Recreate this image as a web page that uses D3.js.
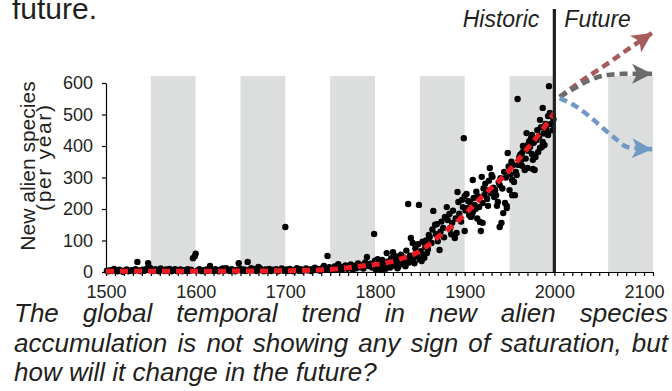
<!DOCTYPE html>
<html>
<head>
<meta charset="utf-8">
<script src="https://cdn.jsdelivr.net/npm/d3@7"></script>
<style>
  body { margin: 0; background: #fff; }
  svg { display: block; font-family: "Liberation Sans", Arial, Helvetica, sans-serif; }
</style>
</head>
<body>
<svg id="chart"></svg>
<script>
// observed new alien species per year: [year, count]
const observed = [
  [1501,4],[1503,2],[1505,6],[1507,3],[1509,10],[1511,5],[1513,2],[1515,7],[1517,3],[1519,1],
  [1521,5],[1523,8],[1525,2],[1527,4],[1529,6],[1531,3],[1533,9],[1535,32],[1537,5],[1539,2],
  [1541,7],[1543,4],[1545,10],[1547,28],[1549,14],[1551,6],[1553,3],[1555,9],[1557,5],[1559,2],
  [1561,11],[1563,6],[1565,3],[1567,8],[1569,4],[1571,10],[1573,2],[1575,6],[1577,9],[1579,3],
  [1581,5],[1583,8],[1585,2],[1587,6],[1589,4],[1591,9],[1593,3],[1595,7],[1597,44],[1599,50],
  [1600,58],[1602,5],[1604,9],[1606,3],[1608,6],[1610,2],[1612,8],[1614,4],[1616,19],[1618,7],
  [1620,3],[1622,9],[1624,5],[1626,2],[1628,8],[1630,11],[1632,4],[1634,12],[1636,6],[1638,3],
  [1640,9],[1642,5],[1644,2],[1646,7],[1648,28],[1650,10],[1652,4],[1654,8],[1656,3],[1658,32],
  [1660,7],[1662,12],[1664,5],[1666,9],[1668,3],[1670,16],[1672,11],[1674,6],[1676,2],[1678,8],
  [1680,4],[1682,10],[1684,3],[1686,7],[1688,5],[1690,9],[1692,2],[1694,6],[1696,11],[1698,4],
  [1700,143],[1701,8],[1703,3],[1705,10],[1707,5],[1709,2],[1711,7],[1713,12],[1715,4],[1717,9],
  [1719,3],[1721,6],[1723,11],[1725,5],[1727,8],[1729,3],[1731,10],[1733,14],[1735,6],[1737,9],
  [1739,4],[1741,12],[1743,19],[1745,8],[1747,51],[1749,15],[1751,6],[1753,11],[1755,18],[1757,9],
  [1759,25],[1761,13],[1763,7],[1765,17],[1767,21],[1769,10],[1771,14],[1773,24],[1775,8],[1777,19],
  [1779,12],[1781,27],[1783,16],[1785,22],[1787,11],[1789,30],[1791,48],[1793,19],[1795,26],[1797,14],
  [1799,121],[1800,36],[1801,8],[1802,22],[1803,41],[1804,12],[1805,15],[1806,29],[1807,6],[1808,38],
  [1809,18],[1810,24],[1811,12],[1812,10],[1813,60],[1814,33],[1815,25],[1816,19],[1817,14],[1818,44],
  [1819,30],[1820,63],[1821,28],[1822,20],[1823,50],[1824,36],[1825,12],[1826,17],[1827,42],[1828,33],
  [1829,55],[1830,30],[1831,26],[1832,46],[1833,22],[1834,18],[1835,68],[1836,39],[1837,216],[1838,30],
  [1839,52],[1840,108],[1841,40],[1842,92],[1843,45],[1844,28],[1845,75],[1846,58],[1847,50],[1848,88],
  [1849,213],[1850,40],[1851,66],[1852,35],[1853,96],[1854,52],[1855,45],[1856,80],[1857,100],[1858,60],
  [1859,72],[1860,118],[1861,111],[1863,92],[1864,135],[1865,194],[1867,150],[1868,120],[1869,152],[1870,98],
  [1872,70],[1873,128],[1874,160],[1876,140],[1877,110],[1878,175],[1880,206],[1881,165],[1883,184],[1884,140],
  [1885,120],[1886,156],[1887,195],[1889,108],[1890,170],[1891,124],[1892,254],[1893,222],[1894,185],[1896,160],
  [1897,229],[1898,206],[1899,425],[1900,241],[1900,130],[1901,195],[1902,248],[1903,203],[1904,225],[1905,180],
  [1906,222],[1907,175],[1908,181],[1909,292],[1909,190],[1910,235],[1911,213],[1912,200],[1913,255],[1914,170],
  [1915,240],[1916,206],[1917,159],[1918,130],[1919,302],[1920,219],[1920,156],[1921,265],[1922,245],[1923,280],
  [1924,260],[1925,232],[1926,210],[1927,290],[1928,330],[1929,250],[1930,308],[1931,302],[1932,268],[1933,238],
  [1934,260],[1935,244],[1936,210],[1937,222],[1938,285],[1939,276],[1939,143],[1940,298],[1941,156],[1942,265],
  [1943,187],[1944,318],[1945,219],[1946,300],[1947,203],[1947,210],[1948,378],[1949,335],[1950,260],[1951,310],
  [1952,350],[1953,244],[1953,292],[1954,340],[1955,286],[1956,244],[1957,318],[1958,308],[1959,549],[1960,340],
  [1961,365],[1962,372],[1963,355],[1964,378],[1964,337],[1965,400],[1966,390],[1967,324],[1968,360],[1969,441],
  [1970,403],[1970,330],[1971,385],[1972,415],[1973,398],[1974,425],[1975,375],[1975,435],[1976,356],[1976,327],
  [1977,410],[1978,324],[1979,365],[1980,419],[1981,450],[1982,381],[1983,430],[1984,394],[1984,483],[1985,460],
  [1986,397],[1987,413],[1987,521],[1988,440],[1989,441],[1989,403],[1990,470],[1991,455],[1992,441],[1993,435],
  [1993,495],[1994,590],[1995,505],[1996,470],[1997,498],[1998,450],[1999,485]
];

// fitted trend (red dashed)
const trend = [
  [1500,2],[1550,2],[1600,2],[1650,3],[1700,4],[1750,8],[1787,20],[1817,32],[1833,46],[1848,63],
  [1859,84],[1872,115],[1886,146],[1897,175],[1908,206],[1919,238],[1931,270],[1943,302],[1953,333],
  [1964,371],[1974,406],[1984,441],[1993,476],[2000,505]
];

// future scenarios (arrows)
const highScenario = [[2006,556],[2032,610],[2054,651],[2076,695],[2109,759]];
const flatScenario = [[2006,556],[2023,584],[2040,610],[2058,625],[2076,629],[2109,629]];
const lowScenario  = [[2006,552],[2025,524],[2040,492],[2054,457],[2070,419],[2081,397],[2109,390]];

const bandStarts = [1550, 1650, 1750, 1850, 1950, 2060];
const xLabels = [1500, 1600, 1700, 1800, 1900, 2000, 2100];
const yLabels = [0, 100, 200, 300, 400, 500, 600];

const captionLines = [
  "The global temporal trend in new alien species",
  "accumulation is not showing any sign of saturation, but",
  "how will it change in the future?"
];

const width = 672, height = 391;
const ink = '#231f20';

const svg = d3.select('#chart').attr('width', width).attr('height', height);

const x = d3.scaleLinear().domain([1500, 2110]).range([106, 653]);
const y = d3.scaleLinear().domain([0, 600]).range([272, 83]);

// gray century bands
svg.append('g')
  .selectAll('rect')
  .data(bandStarts)
  .enter()
  .append('rect')
  .attr('x', d => x(d))
  .attr('width', d => x(d + 50) - x(d))
  .attr('y', y(622))
  .attr('height', y(0) - y(622))
  .style('fill', '#dcdddd');

// axes
const yAxis = svg.append('g')
  .attr('transform', `translate(${x(1500)}, 0)`)
  .call(d3.axisLeft(y).tickValues(yLabels).tickSize(4).tickSizeOuter(0).tickPadding(9));

const xAxis = svg.append('g')
  .attr('transform', `translate(0, ${y(0)})`)
  .call(d3.axisBottom(x)
    .tickValues(d3.range(1500, 2111, 10))
    .tickSize(4).tickSizeOuter(0).tickPadding(9)
    .tickFormat(d => xLabels.includes(d) ? d : ''));

[xAxis, yAxis].forEach(g => {
  g.attr('font-family', null).attr('font-size', null);
  g.selectAll('text').style('font-size', '18px').style('fill', ink);
  g.selectAll('path, line').style('stroke', '#000').style('stroke-width', 1.2);
});

// points
svg.append('g')
  .selectAll('circle')
  .data(observed)
  .enter()
  .append('circle')
  .attr('cx', d => x(d[0]))
  .attr('cy', d => y(d[1]))
  .attr('r', 3.2)
  .style('fill', '#000');

// trend
const line = d3.line()
  .x(d => x(d[0]))
  .y(d => y(d[1]))
  .curve(d3.curveMonotoneX);

svg.append('path')
  .datum(trend)
  .attr('d', line)
  .style('fill', 'none')
  .style('stroke', '#ed1c24')
  .style('stroke-width', 5)
  .style('stroke-dasharray', '8,6');

// historic / future divider
svg.append('line')
  .attr('x1', x(2000)).attr('x2', x(2000))
  .attr('y1', y(835)).attr('y2', y(0))
  .style('stroke', ink)
  .style('stroke-width', 3.2);

svg.append('text')
  .attr('x', x(2000) - 15).attr('y', 27)
  .attr('text-anchor', 'end')
  .style('font-style', 'italic').style('font-size', '23px').style('fill', ink)
  .text('Historic');

svg.append('text')
  .attr('x', x(2000) + 10).attr('y', 27)
  .style('font-style', 'italic').style('font-size', '23px').style('fill', ink)
  .text('Future');

// scenario arrows
const defs = svg.append('defs');
const scenarios = [
  { id: 'high', color: '#a65b5d', pts: highScenario },
  { id: 'flat', color: '#6a6b6d', pts: flatScenario },
  { id: 'low',  color: '#7199c8', pts: lowScenario }
];

scenarios.forEach(s => {
  defs.append('marker')
    .attr('id', 'head-' + s.id)
    .attr('viewBox', '0 0 10 10')
    .attr('refX', 10).attr('refY', 5)
    .attr('markerUnits', 'userSpaceOnUse')
    .attr('markerWidth', 24).attr('markerHeight', 20)
    .attr('orient', 'auto')
    .append('path')
    .attr('d', 'M0,0 L10,5 L0,10 L2.5,5 Z')
    .style('fill', s.color);

  svg.append('path')
    .datum(s.pts)
    .attr('d', line)
    .attr('marker-end', `url(#head-${s.id})`)
    .style('fill', 'none')
    .style('stroke', s.color)
    .style('stroke-width', 4.5)
    .style('stroke-dasharray', '8,5');
});

// y axis title
svg.append('text')
  .attr('transform', 'translate(35, 166) rotate(-90)')
  .attr('text-anchor', 'middle')
  .style('font-size', '21px').style('fill', ink)
  .text('New alien species');

svg.append('text')
  .attr('transform', 'translate(51, 158) rotate(-90)')
  .attr('text-anchor', 'middle')
  .attr('textLength', 106)
  .style('font-size', '21px').style('fill', ink)
  .text('(per year)');

// top fragment of preceding sentence
svg.append('text')
  .attr('x', 12).attr('y', 19)
  .style('font-size', '30px').style('fill', ink)
  .text('future.');

// justified caption
const capLeft = 14, capRight = 668;
captionLines.forEach((txt, i) => {
  const g = svg.append('text')
    .attr('y', 322 + i * 29.5)
    .style('font-style', 'italic').style('font-size', '26px').style('fill', ink);
  if (i === captionLines.length - 1) {
    g.attr('x', capLeft).text(txt);
    return;
  }
  const words = txt.split(' ');
  const spans = words.map(w => g.append('tspan').text(w));
  const widths = spans.map(s => s.node().getComputedTextLength());
  const gap = (capRight - capLeft - d3.sum(widths)) / (words.length - 1);
  let cx = capLeft;
  spans.forEach((s, k) => {
    s.attr('x', cx);
    cx += widths[k] + gap;
  });
});
</script>
</body>
</html>
